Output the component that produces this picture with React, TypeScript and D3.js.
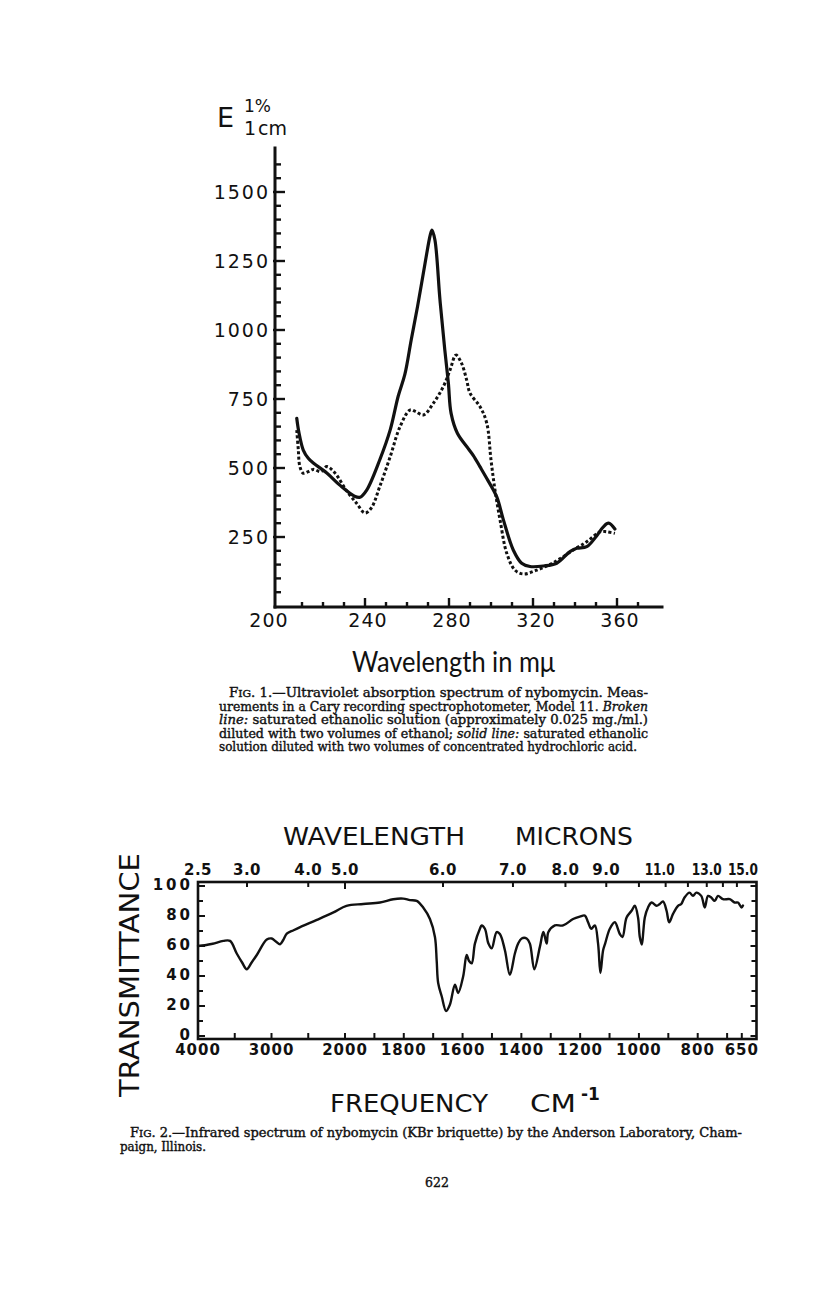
import React from 'react';
import * as d3 from 'd3';

// ---------- Fig. 1 data (wavelength mμ, E 1%/1cm) ----------
const solidLine: [number, number][] = [
  [207.5, 680], [208.5, 630], [210.6, 565], [213, 535], [215.4, 518], [221.8, 482], [228, 438],
  [235, 398], [237.6, 394], [240.8, 420], [247, 529], [252, 638], [255.8, 760], [259, 840],
  [262, 964], [265, 1084], [268.6, 1242], [271.1, 1345], [271.9, 1362], [273.3, 1326],
  [275.7, 1109], [278, 928], [279.7, 807], [281, 698], [284, 626], [289, 572], [291.6, 545],
  [294.8, 504], [298, 462], [302.7, 396], [305.9, 312], [310.6, 203], [314.6, 155],
  [318.6, 143], [325, 145], [331.3, 155], [337.6, 197], [340.8, 209], [345.6, 215],
  [350, 251], [353.5, 287], [356, 300], [359, 279],
];
const brokenLine: [number, number][] = [
  [207.5, 637], [208.2, 570], [209, 505], [210.6, 481], [213, 487], [215.4, 495], [219, 487],
  [221.8, 505], [225.7, 482], [231, 420], [236, 372], [240, 337], [243, 355], [247, 432],
  [252, 541], [256.7, 650], [261.4, 710], [264, 705], [267.8, 692], [272.5, 734],
  [277.3, 795], [280.5, 855], [283.3, 909], [286, 879], [288.4, 819], [290, 771],
  [294.8, 722], [298, 662], [300, 529], [301.9, 420], [304.3, 312], [307.5, 191],
  [311.4, 130], [315.4, 116], [321.8, 130], [329.7, 157], [339.2, 203], [345.6, 233],
  [352, 269], [355, 269], [359, 263],
];
const uvYTicks = [250, 500, 750, 1000, 1250, 1500];
const uvXTicks = [200, 240, 280, 320, 360];

// ---------- Fig. 2 data (frequency cm-1, % transmittance) ----------
const irSpectrum: [number, number][] = [
  [4000, 60], [3905, 60.5], [3800, 61.5], [3655, 63.4], [3564, 63.4], [3473, 55], [3400, 49],
  [3337, 44.5], [3270, 49], [3200, 54], [3064, 64.3], [2996, 65], [2940, 63], [2883, 61.2],
  [2840, 64], [2792, 68.2], [2700, 70.5], [2610, 72.6], [2383, 77.4], [2157, 82.4],
  [1995, 86.8], [1938, 88], [1881, 89], [1836, 91.2], [1802, 91.6], [1779, 90.6],
  [1756, 90.1], [1734, 85.7], [1711, 78], [1694, 66], [1688, 50], [1683, 35.3], [1671, 26.5],
  [1656, 16.7], [1643, 21], [1626, 34.2], [1615, 28.7], [1598, 39.7], [1586, 54], [1578, 50],
  [1569, 48.5], [1558, 61.6], [1541, 71.5], [1535, 73.7], [1524, 71.5], [1512, 61.6],
  [1501, 58.4], [1484, 69.3], [1473, 68], [1456, 57.2], [1439, 40.8], [1422, 55],
  [1411, 61.6], [1399, 65], [1382, 65], [1371, 61.6], [1356, 44.5], [1337, 59.4],
  [1325, 69.3], [1314, 61.6], [1308, 69.3], [1286, 73.7], [1258, 73.7], [1224, 78],
  [1201, 79.6], [1184, 80.3], [1173, 75.8], [1162, 71.5], [1150, 73.7], [1139, 61.6],
  [1131, 42], [1122, 57], [1115, 61.6], [1099, 71.5], [1082, 75.8], [1065, 68], [1056, 66],
  [1042, 79], [1025, 83.5], [1014, 86.8], [1003, 79], [997, 66], [990, 61], [985, 70],
  [980, 79], [969, 85.7], [957, 89], [940, 86.8], [929, 88], [918, 89.7], [906, 83.5],
  [897, 75.8], [884, 81.4], [867, 86.8], [856, 88], [845, 92.3], [828, 95.6], [816, 93.4],
  [805, 95.6], [788, 93.4], [776, 85.7], [765, 93.4], [754, 92.3], [742, 90.1], [731, 93.4],
  [714, 91.2], [691, 91.2], [674, 89], [663, 89], [651, 85.7], [646, 87],
];
const irYTicks = [0, 20, 40, 60, 80, 100];
const irBottomLabels = [4000, 3000, 2000, 1800, 1600, 1400, 1200, 1000, 800, 650];
const irMicronLabels = ['2.5', '3.0', '4.0', '5.0', '6.0', '7.0', '8.0', '9.0', '11.0', '13.0', '15.0'];
const irMicronTicks = [2.5, 3, 4, 5, 6, 7, 8, 9, 10, 11, 12, 13, 14, 15];

const LETTER = "'DejaVu Sans', sans-serif";
const ROUND = "Lato, 'Noto Sans', sans-serif";
const SERIF = "'DejaVu Serif', 'Liberation Serif', serif";

export default function App() {
  // ---- Fig. 1 scales ----
  const ux = d3.scaleLinear().domain([200, 360]).range([281, 617]);
  const uy = d3.scaleLinear().domain([0, 1500]).range([606, 192]);
  const axisX0 = 275;
  const axisY = 607;
  const axisXEnd = 662;
  const axisTop = 148;
  const uvLine = d3.line<[number, number]>()
    .x(d => ux(d[0])).y(d => uy(d[1]))
    .curve(d3.curveCatmullRom.alpha(0.5));
  const uvMinorY = d3.range(50, 1650, 50).filter(v => v % 250 !== 0 && uy(v) > axisTop + 4);
  const uvMinorX = d3.range(210, 380, 10).filter(v => v % 40 !== 0 && ux(v) < axisXEnd - 4);

  // ---- Fig. 2 scales ----
  const ix = d3.scaleLinear().domain([4000, 2000, 600]).range([198, 345, 756.5]);
  const iy = d3.scaleLinear().domain([0, 100]).range([1036, 886]);
  const frameL = ix(4000), frameR = ix(600), frameT = 882, frameB = 1039;
  const irLine = d3.line<[number, number]>()
    .x(d => ix(d[0])).y(d => iy(d[1]))
    .curve(d3.curveCatmullRom.alpha(0.5));
  const irYMinor = d3.range(0, 101, 10);
  const irBottomTicks = [3500, 3000, 2500, 2000, ...d3.range(1900, 600, -100), 650];
  const micronLabelX = (s: string) => {
    const x = ix(10000 / parseFloat(s));
    if (s === '11.0') return x - 6;
    if (s === '15.0') return x + 6;
    return x;
  };

  return (
    <svg width={816} height={1296} viewBox="0 0 816 1296"
      style={{ position: 'absolute', left: 0, top: 0, background: '#fff' }}>
      <rect x={0} y={0} width={816} height={1296} fill="#fff" />

      {/* ================= Fig. 1 ================= */}
      <g fill="#111" fontFamily={LETTER}>
        <text x={217} y={127} fontSize={27}>E</text>
        <text x={244} y={112} fontSize={17}>1%</text>
        <text x={244} y={135} fontSize={19}>1<tspan dx={2}>cm</tspan></text>
      </g>
      <g stroke="#111" strokeWidth={3} fill="none" strokeLinecap="square">
        <line x1={axisX0} y1={axisTop} x2={axisX0} y2={axisY} />
        <line x1={axisX0} y1={axisY} x2={axisXEnd} y2={axisY} />
      </g>
      <g stroke="#111" strokeWidth={2.4}>
        {uvYTicks.map(v => (
          <line key={'uym' + v} x1={axisX0 - 2} x2={axisX0 + 10} y1={uy(v)} y2={uy(v)} />
        ))}
        {uvMinorY.map(v => (
          <line key={'uyn' + v} x1={axisX0} x2={axisX0 + 6} y1={uy(v)} y2={uy(v)} />
        ))}
        {uvXTicks.filter(v => v > 200).map(v => (
          <line key={'uxm' + v} x1={ux(v)} x2={ux(v)} y1={axisY} y2={axisY - 9} />
        ))}
        {uvMinorX.map(v => (
          <line key={'uxn' + v} x1={ux(v)} x2={ux(v)} y1={axisY} y2={axisY - 5} />
        ))}
      </g>
      <g fill="#111" fontFamily={LETTER} fontSize={19}>
        {uvYTicks.map(v => (
          <text key={'uyl' + v} x={270} y={uy(v) + 7} textAnchor="end" letterSpacing={2}>{v}</text>
        ))}
        {uvXTicks.map(v => (
          <text key={'uxl' + v} x={ux(v) + (v === 200 ? -12 : 3)} y={627} textAnchor="middle" letterSpacing={1}>{v}</text>
        ))}
      </g>
      <text x={352} y={672} fill="#111" fontFamily={ROUND} fontSize={28} textLength={203}
        lengthAdjust="spacingAndGlyphs">Wavelength in mμ</text>
      <path d={uvLine(brokenLine) || ''} fill="none" stroke="#111" strokeWidth={3}
        strokeDasharray="3,2.3" />
      <path d={uvLine(solidLine) || ''} fill="none" stroke="#111" strokeWidth={3.2}
        strokeLinejoin="round" strokeLinecap="round" />

      {/* Fig. 1 caption */}
      <g fill="#111" stroke="#111" strokeWidth={0.4} fontFamily={SERIF} fontSize={12.5}>
        <text x={229} y={697} textLength={419} lengthAdjust="spacingAndGlyphs">
          F<tspan fontSize={10}>IG</tspan>. 1.—Ultraviolet absorption spectrum of nybomycin.  Meas-
        </text>
        <text x={219} y={710.5} textLength={429} lengthAdjust="spacingAndGlyphs">
          urements in a Cary recording spectrophotometer, Model 11. <tspan fontStyle="italic">Broken</tspan>
        </text>
        <text x={219} y={724} textLength={429} lengthAdjust="spacingAndGlyphs">
          <tspan fontStyle="italic">line:</tspan>  saturated ethanolic solution (approximately 0.025 mg./ml.)
        </text>
        <text x={219} y={737.5} textLength={429} lengthAdjust="spacingAndGlyphs">
          diluted with two volumes of ethanol; <tspan fontStyle="italic">solid line:</tspan>  saturated ethanolic
        </text>
        <text x={219} y={751} textLength={418} lengthAdjust="spacingAndGlyphs">
          solution diluted with two volumes of concentrated hydrochloric acid.
        </text>
      </g>

      {/* ================= Fig. 2 ================= */}
      <g fill="#111" fontFamily={LETTER}>
        <text x={283} y={845} fontSize={25} textLength={182} lengthAdjust="spacingAndGlyphs">WAVELENGTH</text>
        <text x={515} y={845} fontSize={25} textLength={118} lengthAdjust="spacingAndGlyphs">MICRONS</text>
        <text transform="translate(139,1097) rotate(-90)" fontSize={26} textLength={244}
          lengthAdjust="spacingAndGlyphs">TRANSMITTANCE</text>
        <text x={330} y={1112} fontSize={25} textLength={158} lengthAdjust="spacingAndGlyphs">FREQUENCY</text>
        <text x={530} y={1112} fontSize={25} textLength={46} lengthAdjust="spacingAndGlyphs">CM</text>
        <text x={581} y={1100} fontSize={17} fontWeight="bold">-1</text>
      </g>
      <g fill="#111" fontFamily={LETTER} fontWeight="bold" fontSize={15}>
        {irMicronLabels.map(s => (
          s.length > 3 ? (
            <text key={'ml' + s} x={micronLabelX(s)} y={875} textAnchor="middle"
              textLength={30} lengthAdjust="spacingAndGlyphs">{s}</text>
          ) : (
            <text key={'ml' + s} x={micronLabelX(s)} y={875} textAnchor="middle" letterSpacing={0.5}>{s}</text>
          )
        ))}
        {irYTicks.map(v => (
          <text key={'iyl' + v} x={193} y={iy(v) + 3.5} textAnchor="end" letterSpacing={3}>{v}</text>
        ))}
        {irBottomLabels.map(v => (
          <text key={'ixl' + v} x={ix(v)} y={1055} textAnchor="middle" letterSpacing={1}>{v}</text>
        ))}
      </g>
      <rect x={frameL} y={frameT} width={frameR - frameL} height={frameB - frameT}
        fill="none" stroke="#111" strokeWidth={2.6} />
      <g stroke="#111" strokeWidth={2}>
        {irYMinor.map(v => (
          <line key={'iyt' + v} x1={frameL} x2={frameL + (v % 20 === 0 ? 7 : 5)} y1={iy(v)} y2={iy(v)} />
        ))}
        {irYMinor.map(v => (
          <line key={'iyr' + v} x1={frameR} x2={frameR - (v % 20 === 0 ? 6 : 5)} y1={iy(v)} y2={iy(v)} />
        ))}
        {irBottomTicks.map(v => (
          <line key={'ixb' + v} x1={ix(v)} x2={ix(v)} y1={frameB} y2={frameB - 6} />
        ))}
        {irMicronTicks.map(m => (
          <line key={'ixt' + m} x1={ix(10000 / m)} x2={ix(10000 / m)} y1={frameT} y2={frameT + (m === 5 ? 7 : 5)} />
        ))}
      </g>
      <path d={irLine(irSpectrum) || ''} fill="none" stroke="#111" strokeWidth={2.4}
        strokeLinejoin="round" strokeLinecap="round" />

      {/* Fig. 2 caption */}
      <g fill="#111" stroke="#111" strokeWidth={0.4} fontFamily={SERIF} fontSize={12.5}>
        <text x={130} y={1137} textLength={612} lengthAdjust="spacingAndGlyphs">
          F<tspan fontSize={10}>IG</tspan>. 2.—Infrared spectrum of nybomycin (KBr briquette) by the Anderson Laboratory, Cham-
        </text>
        <text x={120} y={1151} textLength={86} lengthAdjust="spacingAndGlyphs">paign, Illinois.</text>
        <text x={437} y={1187} textAnchor="middle">622</text>
      </g>
    </svg>
  );
}
